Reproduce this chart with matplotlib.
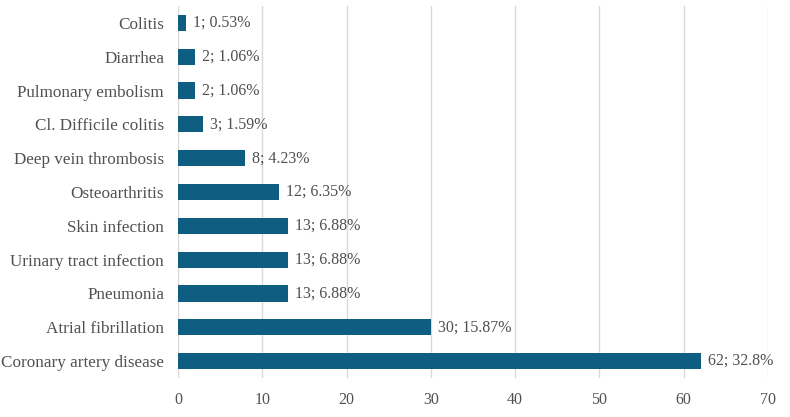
import matplotlib
matplotlib.use("Agg")
import matplotlib.pyplot as plt

categories = ["Coronary artery disease", "Atrial fibrillation", "Pneumonia",
              "Urinary tract infection", "Skin infection", "Osteoarthritis",
              "Deep vein thrombosis", "Cl. Difficile colitis", "Pulmonary embolism",
              "Diarrhea", "Colitis"]
counts = [62, 30, 13, 13, 13, 12, 8, 3, 2, 2, 1]
percents = ["32.8%", "15.87%", "6.88%", "6.88%", "6.88%", "6.35%", "4.23%",
            "1.59%", "1.06%", "1.06%", "0.53%"]
xticks = [0, 10, 20, 30, 40, 50, 60, 70]

plt.rcParams['font.family'] = ['Liberation Serif', 'DejaVu Serif']
fig = plt.figure(figsize=(7.9, 4.17), dpi=100)
ax = fig.add_axes([0.2253, 0.0935, 0.7469, 0.8921])
y = list(range(len(categories)))
bars = ax.barh(y, counts, height=0.48, color='#0F5E82', zorder=3)
for yi, c, p in zip(y, counts, percents):
    ax.annotate(f"{c}; {p}", (c, yi), xytext=(5, 0), textcoords='offset points',
                va='center', ha='left', fontsize=11.5, color='#505050')
ax.set_yticks(y)
ax.set_yticklabels(categories, fontsize=12.3, color='#505050')
ax.set_xticks(xticks)
ax.set_xticklabels([str(t) for t in xticks], fontsize=11.5, color='#505050')
ax.set_xlim(0, 70)
ax.set_ylim(-0.5, len(categories) - 0.5)
ax.grid(axis='x', color='#D9D9D9', linewidth=1, zorder=0)
for s in ax.spines.values():
    s.set_visible(False)
ax.tick_params(axis='both', length=0)
ax.tick_params(axis='y', pad=10)
ax.tick_params(axis='x', pad=10)
fig.savefig("out.png", dpi=100)
